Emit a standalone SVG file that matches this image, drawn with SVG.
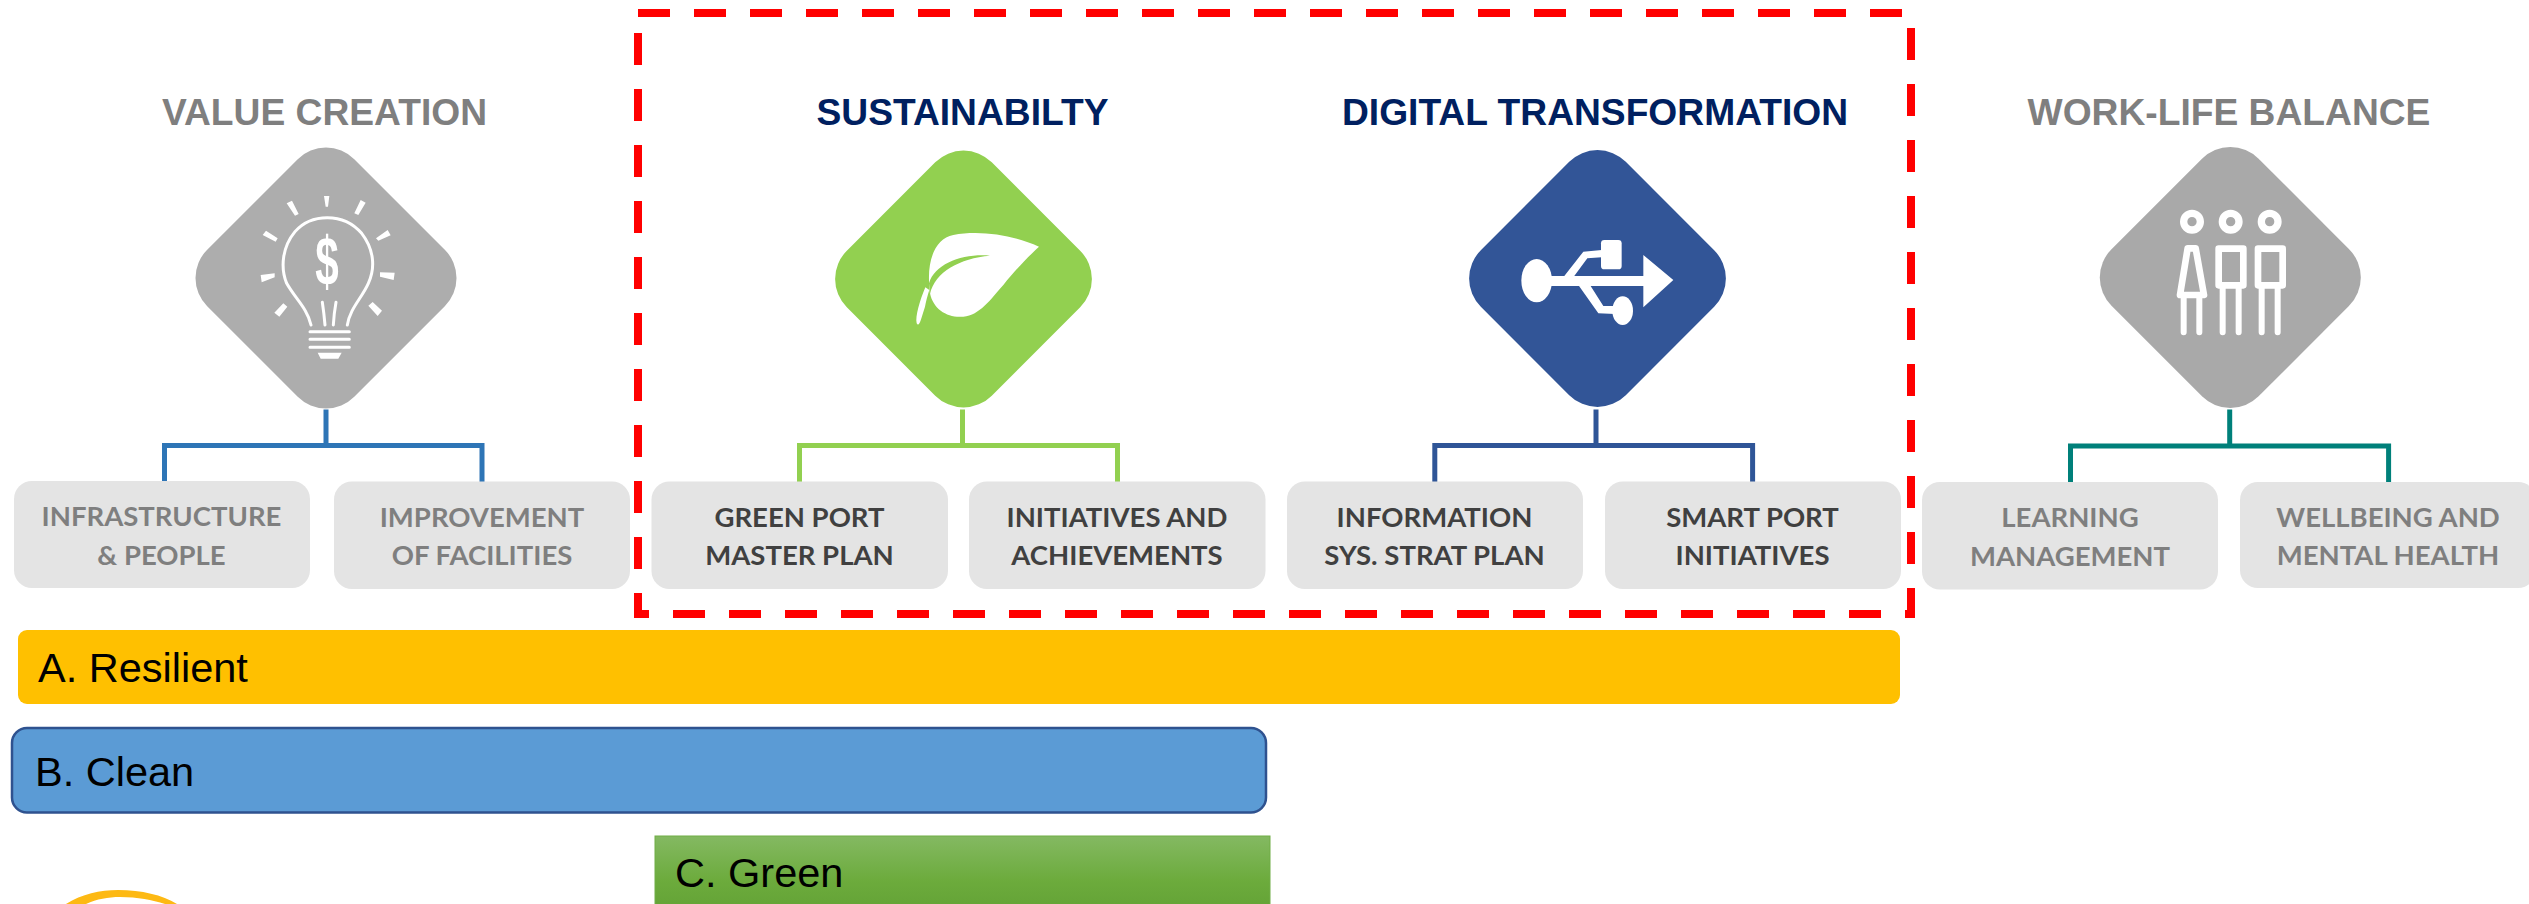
<svg xmlns="http://www.w3.org/2000/svg" width="2529" height="904" viewBox="0 0 2529 904">
<style>
.title{font:bold 37.2px "Liberation Sans",Arial,sans-serif;text-anchor:middle}
.grey{fill:#7f7f7f}.navy{fill:#002060}
.box{fill:#e4e4e4}
.lbl{font:bold 27.5px Lato,"Open Sans",sans-serif;text-anchor:middle}
.dk{fill:#404040}
.bar{font:41.5px "Liberation Sans",Arial,sans-serif;fill:#000}
.conn{fill:none;stroke-width:5}
.w{fill:#fff}
.wl{fill:none;stroke:#fff;stroke-linecap:round;stroke-linejoin:round}
</style>
<defs>
<linearGradient id="greenGrad" x1="0" y1="0" x2="0" y2="1">
<stop offset="0" stop-color="#84b962"/><stop offset=".5" stop-color="#6cab3c"/><stop offset="1" stop-color="#5f9e33"/>
</linearGradient>
</defs>

<g id="connectors">
<path class="conn" stroke="#2e75b6" d="M326 409.5V445.5M164.5 482V445.5H482V482"/>
<path class="conn" stroke="#92d050" d="M962.5 409.5V445.5M799.5 482V445.5H1117.5V482"/>
<path class="conn" stroke="#2f5597" d="M1596 409.5V445.5M1434.8 482V445.5H1752.6V482"/>
<path class="conn" stroke="#00807a" d="M2229.7 409.5V446M2070.5 482V446H2388.6V482"/>
</g>

<g id="value-creation">
<text class="title grey" x="324.5" y="124.5">VALUE CREATION</text>
<rect x="222" y="174" width="208" height="208" rx="40" fill="#adadad" transform="rotate(45 326 278)"/>
<g transform="translate(230 170) scale(.33333)">
<path class="w" d="M282 78H298L294 110H287ZM392 90L407 98L385 135L373 130ZM170 100L186 92L206 132L195 137ZM438 205L473 180L482 196L445 212ZM98 195L108 182L143 205L137 215ZM450 307L494 308L491 330L450 320ZM92 315L134 310L134 322L95 337ZM133 428L160 400L172 410L148 440ZM415 407L428 396L456 422L443 438ZM263 548H335L325 566H272Z"/>
<path class="wl" stroke-width="9" d="M243 465C232 415 195 385 170 340C150 290 158 230 195 185C225 150 260 143 292 143C330 143 365 155 395 190C430 235 438 290 415 340C395 385 360 415 352 465M277 397Q282 430 285 465M318 397Q312 430 310 465M240 485H358M240 508H358M240 532H358"/>
</g>
<text x="0" y="0" transform="translate(327 285) scale(.62 1)" style="font:bold 68px 'Liberation Sans',Arial,sans-serif;text-anchor:middle" fill="#fff">$</text>
</g>

<g id="infrastructure-people">
<rect class="box" x="14" y="481" width="296" height="107" rx="18"/>
<text class="lbl grey" x="161.5" y="525.5">INFRASTRUCTURE</text>
<text class="lbl grey" x="161.5" y="564.5">&amp; PEOPLE</text>
</g>
<g id="improvement-facilities">
<rect class="box" x="334" y="481.5" width="296" height="107.5" rx="18"/>
<text class="lbl grey" x="482" y="526.5">IMPROVEMENT</text>
<text class="lbl grey" x="482" y="564.5">OF FACILITIES</text>
</g>

<g id="sustainability">
<text class="title navy" x="962.5" y="124.5">SUSTAINABILTY</text>
<rect x="861" y="176.5" width="205" height="205" rx="40" fill="#92d050" transform="rotate(45 963.5 279)"/>
<g transform="translate(880 200) scale(.33333)">
<path class="w" d="M477 140C400 105 300 90 220 105C170 115 145 170 147 240C147 245 148 270 150 280C160 330 205 355 250 350C300 345 330 300 370 255C410 205 450 165 477 140Z"/>
<path fill="#92d050" d="M330 167C250 160 165 190 147 250L150 282C165 215 240 175 330 167Z"/>
<path class="w" d="M136 262C120 300 105 350 110 370C118 385 125 350 135 320C140 295 145 280 148 270Z"/>
</g>
</g>
<g id="green-port-master-plan">
<rect class="box" x="651.5" y="481.5" width="296.5" height="107.5" rx="18"/>
<text class="lbl dk" x="799.5" y="527">GREEN PORT</text>
<text class="lbl dk" x="799.5" y="564.5">MASTER PLAN</text>
</g>
<g id="initiatives-achievements">
<rect class="box" x="969" y="481.5" width="296.5" height="107.5" rx="18"/>
<text class="lbl dk" x="1117" y="527">INITIATIVES AND</text>
<text class="lbl dk" x="1117" y="564.5">ACHIEVEMENTS</text>
</g>

<g id="digital-transformation">
<text class="title navy" x="1595" y="124.5">DIGITAL TRANSFORMATION</text>
<rect x="1495" y="176" width="205" height="205" rx="40" fill="#325597" transform="rotate(45 1597.5 278.5)"/>
<g transform="translate(1490 200) scale(.33333)">
<ellipse class="w" cx="140" cy="242" rx="46" ry="65"/>
<path class="w" d="M140 228H460V165L550 240L460 322V258H140Z"/>
<path class="w" d="M220 232L280 155L335 150V172L292 175L250 232Z"/>
<rect class="w" x="333" y="120" width="62" height="88" rx="10"/>
<path class="w" d="M265 255H300L340 318H375V342L325 340Z"/>
<ellipse class="w" cx="398" cy="332" rx="31" ry="43"/>
</g>
</g>
<g id="information-sys-strat-plan">
<rect class="box" x="1287" y="481.5" width="296" height="107.5" rx="18"/>
<text class="lbl dk" x="1434.5" y="527">INFORMATION</text>
<text class="lbl dk" x="1434.5" y="564.5">SYS. STRAT PLAN</text>
</g>
<g id="smart-port-initiatives">
<rect class="box" x="1605" y="481.5" width="296" height="107.5" rx="18"/>
<text class="lbl dk" x="1752.5" y="527">SMART PORT</text>
<text class="lbl dk" x="1752.5" y="564.5">INITIATIVES</text>
</g>

<g id="work-life-balance">
<text class="title grey" x="2229" y="124.5">WORK-LIFE BALANCE</text>
<rect x="2126.3" y="173.5" width="208" height="208" rx="40" fill="#a9a9a9" transform="rotate(45 2230.3 277.5)"/>
<g transform="translate(2130 170) scale(.33333)">
<circle class="wl" cx="186" cy="155" r="25" stroke-width="22"/>
<circle class="wl" cx="302" cy="155" r="25" stroke-width="22"/>
<circle class="wl" cx="419" cy="155" r="25" stroke-width="22"/>
<path class="wl" stroke-width="20" d="M173 235H197L222 375H150ZM266 236H340V346H266ZM384 236H458V346H384Z"/>
<path class="wl" stroke-width="18" d="M161 378V487M208 378V487M278 350V487M326 350V487M395 350V487M443 350V487"/>
</g>
</g>
<g id="learning-management">
<rect class="box" x="1922" y="482" width="296" height="107.5" rx="18"/>
<text class="lbl grey" x="2070" y="527">LEARNING</text>
<text class="lbl grey" x="2070" y="566">MANAGEMENT</text>
</g>
<g id="wellbeing-mental-health">
<rect class="box" x="2240" y="482" width="296" height="106" rx="18"/>
<text class="lbl grey" x="2388" y="526.5">WELLBEING AND</text>
<text class="lbl grey" x="2388" y="565">MENTAL HEALTH</text>
</g>

<rect id="highlight-frame" x="638" y="13" width="1273" height="601" fill="none" stroke="#ff0000" stroke-width="8" stroke-dasharray="32 24"/>

<g id="bar-resilient">
<rect x="18" y="630" width="1882" height="74" rx="9" fill="#ffc000"/>
<text class="bar" x="38" y="682">A. Resilient</text>
</g>
<g id="bar-clean">
<rect x="12" y="728" width="1254" height="84.5" rx="15" fill="#5b9bd5" stroke="#2f528f" stroke-width="2.5"/>
<text class="bar" x="35" y="786">B. Clean</text>
</g>
<g id="bar-green">
<rect x="655" y="836" width="615" height="90" fill="url(#greenGrad)" stroke="#70ad47" stroke-width="1"/>
<text class="bar" x="675" y="887">C. Green</text>
</g>
<path id="logo-arc" fill="#fdb913" d="M66 904C82 894 100 890 118 890C142 890 162 895 177 904H165C152 900 138 897 120 897C108 897 97 899 86 904Z"/>
</svg>
